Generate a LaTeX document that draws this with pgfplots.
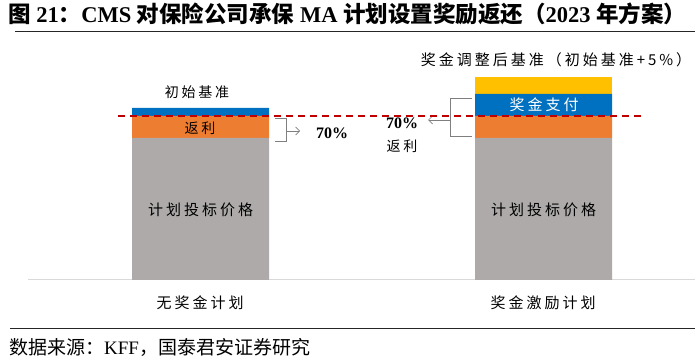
\documentclass[border=0pt]{standalone}
\usepackage{pgfplots}
\pgfplotsset{compat=1.18}
\usepackage{fontspec}
\usetikzlibrary{arrows.meta}
\setmainfont{Liberation Serif}
\newfontfamily\cjk{Noto Sans CJK SC}
\newfontfamily\cjkls[LetterSpace=20]{Noto Sans CJK SC}
\definecolor{cgray}{HTML}{AEAAAA}
\definecolor{corange}{HTML}{ED7D31}
\definecolor{cblue}{HTML}{0070C0}
\definecolor{cyellow}{HTML}{FFC000}
\definecolor{cred}{HTML}{C00000}
\definecolor{cline}{HTML}{D9D9D9}
\definecolor{cbrk}{HTML}{7F7F7F}
\begin{document}
\begin{tikzpicture}
\path[use as bounding box] (0,0) rectangle (700pt,361pt);
\begin{axis}[at={(0,0)}, anchor=south west, scale only axis,
  width=700pt, height=361pt, xmin=0, xmax=700, ymin=-81, ymax=280,
  axis lines=none, clip=false, ybar stacked, bar width=137pt]
\addplot[fill=cgray, draw=none] coordinates {(200.5,142) (543.5,142)};
\addplot[fill=corange, draw=none] coordinates {(200.5,22) (543.5,22)};
\addplot[fill=cblue, draw=none] coordinates {(200.5,8) (543.5,22)};
\addplot[fill=cyellow, draw=none] coordinates {(200.5,0) (543.5,17)};
% lines
\draw[cline, line width=1pt] (axis cs:28,0) -- (axis cs:695,0);
\draw[black!85, line width=1pt] (axis cs:15,248) -- (axis cs:695,248);
\draw[black!85, line width=1pt] (axis cs:10,-48) -- (axis cs:695,-48);
% brackets
\draw[cbrk, line width=0.7pt] (axis cs:275,162) -- (axis cs:286,162) -- (axis cs:286,139) -- (axis cs:275,139);
\draw[cbrk, line width=0.7pt, -{Straight Barb[length=4pt,width=8pt]}] (axis cs:286,149) -- (axis cs:300,149);
\draw[cbrk, line width=0.7pt] (axis cs:472,182) -- (axis cs:450,182) -- (axis cs:450,144) -- (axis cs:472,144);
\draw[cbrk, line width=0.7pt, -{Straight Barb[length=4pt,width=8pt]}] (axis cs:450,160) -- (axis cs:428,160);
% anchor points for texts
\coordinate (dA) at (axis cs:118,164);
\coordinate (dB) at (axis cs:642,164);
\coordinate (tTitle) at (axis cs:8,266);
\coordinate (tInit) at (axis cs:197,188);
\coordinate (tRebL) at (axis cs:200,152);
\coordinate (tPctL) at (axis cs:332,147);
\coordinate (tPctR) at (axis cs:402,157);
\coordinate (tRebR) at (axis cs:402,134);
\coordinate (tAdj) at (axis cs:556,220);
\coordinate (tBonus) at (axis cs:544,175);
\coordinate (tBidL) at (axis cs:200.5,70);
\coordinate (tBidR) at (axis cs:543.5,70);
\coordinate (tCatL) at (axis cs:200,-23);
\coordinate (tCatR) at (axis cs:543,-23);
\coordinate (tSrc) at (axis cs:9,-67);
\end{axis}
\draw[cred, line width=1.1pt, dash pattern=on 7pt off 5pt] (dA) -- (dB);
\node[anchor=west, inner sep=0] at (tTitle) {\fontsize{22.5}{24}\selectfont\bfseries{\cjk 图} 21{\cjk ：}CMS {\cjk 对保险公司承保} MA {\cjk 计划设置奖励返还（}2023 {\cjk 年方案）}};
\node[inner sep=0] at (tInit) {\fontsize{14}{16}\selectfont\cjkls 初始基准};
\node[inner sep=0] at (tRebL) {\fontsize{14}{16}\selectfont\cjkls 返利};
\node[inner sep=0] at (tPctL) {\fontsize{16}{18}\selectfont\bfseries 70\%};
\node[inner sep=0] at (tPctR) {\fontsize{16}{18}\selectfont\bfseries 70\%};
\node[inner sep=0] at (tRebR) {\fontsize{14}{16}\selectfont\cjkls 返利};
\node[inner sep=0] at (tAdj) {\fontsize{15}{17}\selectfont\cjkls 奖金调整后基准（初始基准+5\%）};
\node[inner sep=0, text=white] at (tBonus) {\fontsize{15}{17}\selectfont\cjkls 奖金支付};
\node[inner sep=0] at (tBidL) {\fontsize{15}{17}\selectfont\cjkls 计划投标价格};
\node[inner sep=0] at (tBidR) {\fontsize{15}{17}\selectfont\cjkls 计划投标价格};
\node[inner sep=0] at (tCatL) {\fontsize{15}{17}\selectfont\cjkls 无奖金计划};
\node[inner sep=0] at (tCatR) {\fontsize{15}{17}\selectfont\cjkls 奖金激励计划};
\node[anchor=west, inner sep=0] at (tSrc) {\fontsize{19}{21}\selectfont{\cjk 数据来源：}KFF{\cjk ，国泰君安证券研究}};
\end{tikzpicture}
\end{document}
